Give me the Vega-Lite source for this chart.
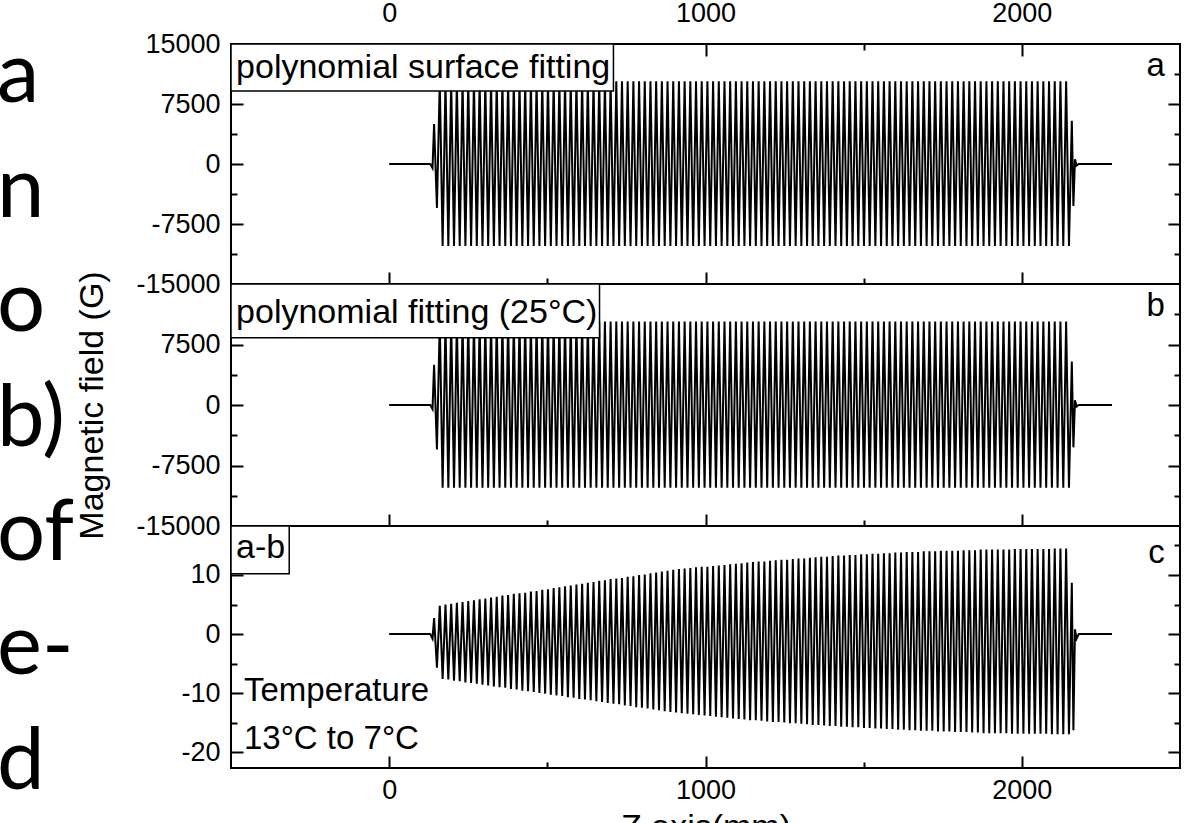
{
"$schema": "https://vega.github.io/schema/vega-lite/v6.json",
"padding": {"left": 0, "top": -8, "right": 0, "bottom": 0},
"background": "white",
"spacing": 0,
"config": {
 "view": {"stroke": "black", "strokeWidth": 2},
 "font": "Arial",
 "axis": {"domain": false, "grid": false, "labelFont": "Arial", "labelFontSize": 27, "labelColor": "black", "tickColor": "black", "tickWidth": 2, "titleFont": "Arial", "titleFontSize": 34, "titleFontWeight": "normal", "titleColor": "black", "labelFlush": false, "labelOverlap": false}
},
"datasets": {
 "words": [{"line":1,"word":"a"},{"line":2,"word":"n"},{"line":3,"word":"o"},{"line":4,"word":"b)"},{"line":5,"word":"of"},{"line":6,"word":"e-"},{"line":7,"word":"d"}],
 "wave": [
{"z":0,"a":0,"b":0,"c":0},
{"z":130,"a":0,"b":0,"c":0},
{"z":137,"a":-500,"b":-500,"c":-0.8},
{"z":142,"a":5000,"b":5000,"c":2.7},
{"z":151,"a":-5500,"b":-5500,"c":-5.7},
{"z":160,"a":10350,"b":10350,"c":4.8},
{"z":169,"a":-10250,"b":-10250,"c":-7.6},
{"z":178,"a":10350,"b":10350,"c":5.0},
{"z":187,"a":-10250,"b":-10250,"c":-7.7},
{"z":196,"a":10350,"b":10350,"c":5.1},
{"z":205,"a":-10250,"b":-10250,"c":-7.9},
{"z":214,"a":10350,"b":10350,"c":5.3},
{"z":223,"a":-10250,"b":-10250,"c":-8.0},
{"z":232,"a":10350,"b":10350,"c":5.4},
{"z":241,"a":-10250,"b":-10250,"c":-8.2},
{"z":250,"a":10350,"b":10350,"c":5.6},
{"z":259,"a":-10250,"b":-10250,"c":-8.3},
{"z":268,"a":10350,"b":10350,"c":5.7},
{"z":277,"a":-10250,"b":-10250,"c":-8.4},
{"z":286,"a":10350,"b":10350,"c":5.9},
{"z":295,"a":-10250,"b":-10250,"c":-8.6},
{"z":304,"a":10350,"b":10350,"c":6.0},
{"z":313,"a":-10250,"b":-10250,"c":-8.7},
{"z":322,"a":10350,"b":10350,"c":6.2},
{"z":331,"a":-10250,"b":-10250,"c":-8.9},
{"z":340,"a":10350,"b":10350,"c":6.3},
{"z":349,"a":-10250,"b":-10250,"c":-9.0},
{"z":358,"a":10350,"b":10350,"c":6.5},
{"z":367,"a":-10250,"b":-10250,"c":-9.1},
{"z":376,"a":10350,"b":10350,"c":6.6},
{"z":385,"a":-10250,"b":-10250,"c":-9.3},
{"z":394,"a":10350,"b":10350,"c":6.8},
{"z":403,"a":-10250,"b":-10250,"c":-9.4},
{"z":412,"a":10350,"b":10350,"c":6.9},
{"z":421,"a":-10250,"b":-10250,"c":-9.6},
{"z":430,"a":10350,"b":10350,"c":7.0},
{"z":439,"a":-10250,"b":-10250,"c":-9.7},
{"z":448,"a":10350,"b":10350,"c":7.2},
{"z":457,"a":-10250,"b":-10250,"c":-9.8},
{"z":466,"a":10350,"b":10350,"c":7.3},
{"z":475,"a":-10250,"b":-10250,"c":-10.0},
{"z":484,"a":10350,"b":10350,"c":7.5},
{"z":493,"a":-10250,"b":-10250,"c":-10.1},
{"z":502,"a":10350,"b":10350,"c":7.6},
{"z":511,"a":-10250,"b":-10250,"c":-10.3},
{"z":520,"a":10350,"b":10350,"c":7.8},
{"z":529,"a":-10250,"b":-10250,"c":-10.4},
{"z":538,"a":10350,"b":10350,"c":7.9},
{"z":547,"a":-10250,"b":-10250,"c":-10.5},
{"z":556,"a":10350,"b":10350,"c":8.1},
{"z":565,"a":-10250,"b":-10250,"c":-10.7},
{"z":574,"a":10350,"b":10350,"c":8.2},
{"z":583,"a":-10250,"b":-10250,"c":-10.8},
{"z":592,"a":10350,"b":10350,"c":8.4},
{"z":601,"a":-10250,"b":-10250,"c":-11.0},
{"z":610,"a":10350,"b":10350,"c":8.5},
{"z":619,"a":-10250,"b":-10250,"c":-11.1},
{"z":628,"a":10350,"b":10350,"c":8.7},
{"z":637,"a":-10250,"b":-10250,"c":-11.2},
{"z":646,"a":10350,"b":10350,"c":8.8},
{"z":655,"a":-10250,"b":-10250,"c":-11.4},
{"z":664,"a":10350,"b":10350,"c":9.0},
{"z":673,"a":-10250,"b":-10250,"c":-11.5},
{"z":682,"a":10350,"b":10350,"c":9.1},
{"z":691,"a":-10250,"b":-10250,"c":-11.7},
{"z":700,"a":10350,"b":10350,"c":9.3},
{"z":709,"a":-10250,"b":-10250,"c":-11.8},
{"z":718,"a":10350,"b":10350,"c":9.4},
{"z":727,"a":-10250,"b":-10250,"c":-11.9},
{"z":736,"a":10350,"b":10350,"c":9.5},
{"z":745,"a":-10250,"b":-10250,"c":-12.1},
{"z":754,"a":10350,"b":10350,"c":9.7},
{"z":763,"a":-10250,"b":-10250,"c":-12.2},
{"z":772,"a":10350,"b":10350,"c":9.8},
{"z":781,"a":-10250,"b":-10250,"c":-12.4},
{"z":790,"a":10350,"b":10350,"c":10.0},
{"z":799,"a":-10250,"b":-10250,"c":-12.5},
{"z":808,"a":10350,"b":10350,"c":10.1},
{"z":817,"a":-10250,"b":-10250,"c":-12.6},
{"z":826,"a":10350,"b":10350,"c":10.3},
{"z":835,"a":-10250,"b":-10250,"c":-12.8},
{"z":844,"a":10350,"b":10350,"c":10.4},
{"z":853,"a":-10250,"b":-10250,"c":-12.9},
{"z":862,"a":10350,"b":10350,"c":10.6},
{"z":871,"a":-10250,"b":-10250,"c":-13.1},
{"z":880,"a":10350,"b":10350,"c":10.7},
{"z":889,"a":-10250,"b":-10250,"c":-13.2},
{"z":898,"a":10350,"b":10350,"c":10.9},
{"z":907,"a":-10250,"b":-10250,"c":-13.3},
{"z":916,"a":10350,"b":10350,"c":11.0},
{"z":925,"a":-10250,"b":-10250,"c":-13.4},
{"z":934,"a":10350,"b":10350,"c":11.1},
{"z":943,"a":-10250,"b":-10250,"c":-13.5},
{"z":952,"a":10350,"b":10350,"c":11.2},
{"z":961,"a":-10250,"b":-10250,"c":-13.6},
{"z":970,"a":10350,"b":10350,"c":11.3},
{"z":979,"a":-10250,"b":-10250,"c":-13.7},
{"z":988,"a":10350,"b":10350,"c":11.4},
{"z":997,"a":-10250,"b":-10250,"c":-13.8},
{"z":1006,"a":10350,"b":10350,"c":11.4},
{"z":1015,"a":-10250,"b":-10250,"c":-13.9},
{"z":1024,"a":10350,"b":10350,"c":11.5},
{"z":1033,"a":-10250,"b":-10250,"c":-14.0},
{"z":1042,"a":10350,"b":10350,"c":11.6},
{"z":1051,"a":-10250,"b":-10250,"c":-14.1},
{"z":1060,"a":10350,"b":10350,"c":11.7},
{"z":1069,"a":-10250,"b":-10250,"c":-14.2},
{"z":1078,"a":10350,"b":10350,"c":11.8},
{"z":1087,"a":-10250,"b":-10250,"c":-14.3},
{"z":1096,"a":10350,"b":10350,"c":11.9},
{"z":1105,"a":-10250,"b":-10250,"c":-14.4},
{"z":1114,"a":10350,"b":10350,"c":12.0},
{"z":1123,"a":-10250,"b":-10250,"c":-14.5},
{"z":1132,"a":10350,"b":10350,"c":12.1},
{"z":1141,"a":-10250,"b":-10250,"c":-14.6},
{"z":1150,"a":10350,"b":10350,"c":12.2},
{"z":1159,"a":-10250,"b":-10250,"c":-14.6},
{"z":1168,"a":10350,"b":10350,"c":12.3},
{"z":1177,"a":-10250,"b":-10250,"c":-14.7},
{"z":1186,"a":10350,"b":10350,"c":12.3},
{"z":1195,"a":-10250,"b":-10250,"c":-14.8},
{"z":1204,"a":10350,"b":10350,"c":12.4},
{"z":1213,"a":-10250,"b":-10250,"c":-14.9},
{"z":1222,"a":10350,"b":10350,"c":12.5},
{"z":1231,"a":-10250,"b":-10250,"c":-14.9},
{"z":1240,"a":10350,"b":10350,"c":12.6},
{"z":1249,"a":-10250,"b":-10250,"c":-15.0},
{"z":1258,"a":10350,"b":10350,"c":12.6},
{"z":1267,"a":-10250,"b":-10250,"c":-15.1},
{"z":1276,"a":10350,"b":10350,"c":12.7},
{"z":1285,"a":-10250,"b":-10250,"c":-15.1},
{"z":1294,"a":10350,"b":10350,"c":12.8},
{"z":1303,"a":-10250,"b":-10250,"c":-15.2},
{"z":1312,"a":10350,"b":10350,"c":12.8},
{"z":1321,"a":-10250,"b":-10250,"c":-15.3},
{"z":1330,"a":10350,"b":10350,"c":12.9},
{"z":1339,"a":-10250,"b":-10250,"c":-15.4},
{"z":1348,"a":10350,"b":10350,"c":13.0},
{"z":1357,"a":-10250,"b":-10250,"c":-15.4},
{"z":1366,"a":10350,"b":10350,"c":13.1},
{"z":1375,"a":-10250,"b":-10250,"c":-15.5},
{"z":1384,"a":10350,"b":10350,"c":13.1},
{"z":1393,"a":-10250,"b":-10250,"c":-15.6},
{"z":1402,"a":10350,"b":10350,"c":13.2},
{"z":1411,"a":-10250,"b":-10250,"c":-15.6},
{"z":1420,"a":10350,"b":10350,"c":13.3},
{"z":1429,"a":-10250,"b":-10250,"c":-15.7},
{"z":1438,"a":10350,"b":10350,"c":13.3},
{"z":1447,"a":-10250,"b":-10250,"c":-15.7},
{"z":1456,"a":10350,"b":10350,"c":13.4},
{"z":1465,"a":-10250,"b":-10250,"c":-15.8},
{"z":1474,"a":10350,"b":10350,"c":13.4},
{"z":1483,"a":-10250,"b":-10250,"c":-15.8},
{"z":1492,"a":10350,"b":10350,"c":13.5},
{"z":1501,"a":-10250,"b":-10250,"c":-15.9},
{"z":1510,"a":10350,"b":10350,"c":13.5},
{"z":1519,"a":-10250,"b":-10250,"c":-15.9},
{"z":1528,"a":10350,"b":10350,"c":13.6},
{"z":1537,"a":-10250,"b":-10250,"c":-16.0},
{"z":1546,"a":10350,"b":10350,"c":13.6},
{"z":1555,"a":-10250,"b":-10250,"c":-16.0},
{"z":1564,"a":10350,"b":10350,"c":13.7},
{"z":1573,"a":-10250,"b":-10250,"c":-16.1},
{"z":1582,"a":10350,"b":10350,"c":13.7},
{"z":1591,"a":-10250,"b":-10250,"c":-16.1},
{"z":1600,"a":10350,"b":10350,"c":13.8},
{"z":1609,"a":-10250,"b":-10250,"c":-16.2},
{"z":1618,"a":10350,"b":10350,"c":13.8},
{"z":1627,"a":-10250,"b":-10250,"c":-16.2},
{"z":1636,"a":10350,"b":10350,"c":13.9},
{"z":1645,"a":-10250,"b":-10250,"c":-16.3},
{"z":1654,"a":10350,"b":10350,"c":13.9},
{"z":1663,"a":-10250,"b":-10250,"c":-16.3},
{"z":1672,"a":10350,"b":10350,"c":13.9},
{"z":1681,"a":-10250,"b":-10250,"c":-16.4},
{"z":1690,"a":10350,"b":10350,"c":14.0},
{"z":1699,"a":-10250,"b":-10250,"c":-16.4},
{"z":1708,"a":10350,"b":10350,"c":14.0},
{"z":1717,"a":-10250,"b":-10250,"c":-16.4},
{"z":1726,"a":10350,"b":10350,"c":14.0},
{"z":1735,"a":-10250,"b":-10250,"c":-16.5},
{"z":1744,"a":10350,"b":10350,"c":14.1},
{"z":1753,"a":-10250,"b":-10250,"c":-16.5},
{"z":1762,"a":10350,"b":10350,"c":14.1},
{"z":1771,"a":-10250,"b":-10250,"c":-16.5},
{"z":1780,"a":10350,"b":10350,"c":14.1},
{"z":1789,"a":-10250,"b":-10250,"c":-16.6},
{"z":1798,"a":10350,"b":10350,"c":14.1},
{"z":1807,"a":-10250,"b":-10250,"c":-16.6},
{"z":1816,"a":10350,"b":10350,"c":14.2},
{"z":1825,"a":-10250,"b":-10250,"c":-16.6},
{"z":1834,"a":10350,"b":10350,"c":14.2},
{"z":1843,"a":-10250,"b":-10250,"c":-16.7},
{"z":1852,"a":10350,"b":10350,"c":14.2},
{"z":1861,"a":-10250,"b":-10250,"c":-16.7},
{"z":1870,"a":10350,"b":10350,"c":14.3},
{"z":1879,"a":-10250,"b":-10250,"c":-16.8},
{"z":1888,"a":10350,"b":10350,"c":14.3},
{"z":1897,"a":-10250,"b":-10250,"c":-16.8},
{"z":1906,"a":10350,"b":10350,"c":14.3},
{"z":1915,"a":-10250,"b":-10250,"c":-16.8},
{"z":1924,"a":10350,"b":10350,"c":14.3},
{"z":1933,"a":-10250,"b":-10250,"c":-16.8},
{"z":1942,"a":10350,"b":10350,"c":14.3},
{"z":1951,"a":-10250,"b":-10250,"c":-16.8},
{"z":1960,"a":10350,"b":10350,"c":14.3},
{"z":1969,"a":-10250,"b":-10250,"c":-16.9},
{"z":1978,"a":10350,"b":10350,"c":14.4},
{"z":1987,"a":-10250,"b":-10250,"c":-16.9},
{"z":1996,"a":10350,"b":10350,"c":14.4},
{"z":2005,"a":-10250,"b":-10250,"c":-16.9},
{"z":2014,"a":10350,"b":10350,"c":14.4},
{"z":2023,"a":-10250,"b":-10250,"c":-16.9},
{"z":2032,"a":10350,"b":10350,"c":14.4},
{"z":2041,"a":-10250,"b":-10250,"c":-16.9},
{"z":2050,"a":10350,"b":10350,"c":14.4},
{"z":2059,"a":-10250,"b":-10250,"c":-16.9},
{"z":2068,"a":10350,"b":10350,"c":14.4},
{"z":2077,"a":-10250,"b":-10250,"c":-16.9},
{"z":2086,"a":10350,"b":10350,"c":14.4},
{"z":2095,"a":-10250,"b":-10250,"c":-17.0},
{"z":2104,"a":10350,"b":10350,"c":14.5},
{"z":2113,"a":-10250,"b":-10250,"c":-17.0},
{"z":2122,"a":10350,"b":10350,"c":14.5},
{"z":2131,"a":-10250,"b":-10250,"c":-17.0},
{"z":2140,"a":10350,"b":10350,"c":14.5},
{"z":2149,"a":-10250,"b":-10250,"c":-17.0},
{"z":2158,"a":5400,"b":5400,"c":8.7},
{"z":2163,"a":-5250,"b":-5250,"c":-16.3},
{"z":2168,"a":600,"b":600,"c":0.8},
{"z":2173,"a":-200,"b":-200,"c":-0.8},
{"z":2180,"a":0,"b":0,"c":0},
{"z":2285,"a":0,"b":0,"c":0}
 ]
},
"hconcat": [
 {
  "width": 74, "height": 823,
  "view": {"stroke": null},
  "data": {"name": "words"},
  "mark": {"type": "text", "align": "left", "baseline": "alphabetic", "font": "Lato", "fontSize": 85, "dx": -3, "dy": -10, "clip": true, "color": "black"},
  "encoding": {
   "y": {"field": "line", "type": "ordinal", "scale": {"type": "point", "padding": 0.594}, "axis": null},
   "x": {"datum": 0, "type": "quantitative", "scale": {"domain": [0, 74], "nice": false, "zero": false}, "axis": null},
   "text": {"field": "word"}
  }
 },
 {
  "spacing": 0,
  "bounds": "flush",
  "vconcat": [
   {
    "width": 949, "height": 240,
    "resolve": {"axis": {"x": "independent", "y": "independent"}},
    "layer": [
     {
      "data": {"name": "wave"},
      "mark": {"type": "line", "color": "black", "strokeWidth": 2},
      "encoding": {
       "x": {"field": "z", "type": "quantitative", "scale": {"domain": [-500, 2500], "nice": false, "zero": false},
             "axis": {"orient": "top", "values": [0, 500, 1000, 1500, 2000], "labelExpr": "datum.value % 1000 === 0 ? '' + datum.value : ''", "tickSize": {"condition": {"test": "datum.value % 1000 === 0", "value": -12}, "value": -6}, "labelPadding": 29, "title": null}},
       "y": {"field": "a", "type": "quantitative", "scale": {"domain": [-15000, 15000], "nice": false, "zero": false},
             "axis": {"orient": "left", "values": [-15000, -11250, -7500, -3750, 0, 3750, 7500, 11250, 15000], "labelExpr": "datum.value % 7500 === 0 ? '' + datum.value : ''", "tickSize": {"condition": {"test": "datum.value % 7500 === 0", "value": -12}, "value": -6}, "labelPadding": 23, "title": null}}
      }
     },
     {
      "data": {"values": [{}]},
      "mark": {"type": "rect", "fill": "white", "stroke": "black", "strokeWidth": 1.5},
      "encoding": {
       "x": {"datum": -500, "type": "quantitative", "scale": {"domain": [-500, 2500], "nice": false, "zero": false},
             "axis": {"orient": "bottom", "values": [0, 500, 1000, 1500, 2000], "labels": false, "tickSize": {"condition": {"test": "datum.value % 1000 === 0", "value": -12}, "value": -6}, "title": null}},
       "x2": {"datum": 709},
       "y": {"datum": 15000, "type": "quantitative", "scale": {"domain": [-15000, 15000], "nice": false, "zero": false},
             "axis": {"orient": "right", "values": [-11250, -7500, -3750, 0, 3750, 7500, 11250], "labels": false, "tickSize": {"condition": {"test": "datum.value % 7500 === 0", "value": -12}, "value": -6}, "title": null}},
       "y2": {"datum": 9125}
      }
     },
     {
      "data": {"values": [{"label": "polynomial surface fitting"}]},
      "mark": {"type": "text", "align": "left", "baseline": "alphabetic", "font": "Arial", "fontSize": 34, "color": "black"},
      "encoding": {
       "x": {"datum": -484, "type": "quantitative", "scale": {"domain": [-500, 2500], "nice": false, "zero": false}, "axis": null},
       "y": {"datum": 10750, "type": "quantitative", "scale": {"domain": [-15000, 15000], "nice": false, "zero": false}, "axis": null},
       "text": {"field": "label"}
      }
     },
     {
      "data": {"values": [{"label": "a"}]},
      "mark": {"type": "text", "align": "right", "baseline": "alphabetic", "font": "Arial", "fontSize": 33, "color": "black"},
      "encoding": {
       "x": {"datum": 2452, "type": "quantitative", "scale": {"domain": [-500, 2500], "nice": false, "zero": false}, "axis": null},
       "y": {"datum": 11000, "type": "quantitative", "scale": {"domain": [-15000, 15000], "nice": false, "zero": false}, "axis": null},
       "text": {"field": "label"}
      }
     }
    ]
   },
   {
    "width": 949, "height": 242,
    "resolve": {"axis": {"x": "independent", "y": "independent"}},
    "layer": [
     {
      "data": {"name": "wave"},
      "mark": {"type": "line", "color": "black", "strokeWidth": 2},
      "encoding": {
       "x": {"field": "z", "type": "quantitative", "scale": {"domain": [-500, 2500], "nice": false, "zero": false},
             "axis": {"orient": "bottom", "values": [0, 500, 1000, 1500, 2000], "labels": false, "tickSize": {"condition": {"test": "datum.value % 1000 === 0", "value": -12}, "value": -6}, "title": null}},
       "y": {"field": "b", "type": "quantitative", "scale": {"domain": [-15000, 15000], "nice": false, "zero": false},
             "axis": {"orient": "left", "values": [-15000, -11250, -7500, -3750, 0, 3750, 7500, 11250], "labelExpr": "datum.value % 7500 === 0 ? '' + datum.value : ''", "tickSize": {"condition": {"test": "datum.value % 7500 === 0", "value": -12}, "value": -6}, "labelPadding": 23, "title": "Magnetic field (G)", "titlePadding": 26}}
      }
     },
     {
      "data": {"values": [{}]},
      "mark": {"type": "rect", "fill": "white", "stroke": "black", "strokeWidth": 1.5},
      "encoding": {
       "x": {"datum": -500, "type": "quantitative", "scale": {"domain": [-500, 2500], "nice": false, "zero": false}, "axis": null},
       "x2": {"datum": 665},
       "y": {"datum": 15000, "type": "quantitative", "scale": {"domain": [-15000, 15000], "nice": false, "zero": false},
             "axis": {"orient": "right", "values": [-11250, -7500, -3750, 0, 3750, 7500, 11250], "labels": false, "tickSize": {"condition": {"test": "datum.value % 7500 === 0", "value": -12}, "value": -6}, "title": null}},
       "y2": {"datum": 8350}
      }
     },
     {
      "data": {"values": [{"label": "polynomial fitting (25°C)"}]},
      "mark": {"type": "text", "align": "left", "baseline": "alphabetic", "font": "Arial", "fontSize": 34, "color": "black"},
      "encoding": {
       "x": {"datum": -484, "type": "quantitative", "scale": {"domain": [-500, 2500], "nice": false, "zero": false}, "axis": null},
       "y": {"datum": 10170, "type": "quantitative", "scale": {"domain": [-15000, 15000], "nice": false, "zero": false}, "axis": null},
       "text": {"field": "label"}
      }
     },
     {
      "data": {"values": [{"label": "b"}]},
      "mark": {"type": "text", "align": "right", "baseline": "alphabetic", "font": "Arial", "fontSize": 33, "color": "black"},
      "encoding": {
       "x": {"datum": 2452, "type": "quantitative", "scale": {"domain": [-500, 2500], "nice": false, "zero": false}, "axis": null},
       "y": {"datum": 11000, "type": "quantitative", "scale": {"domain": [-15000, 15000], "nice": false, "zero": false}, "axis": null},
       "text": {"field": "label"}
      }
     }
    ]
   },
   {
    "width": 949, "height": 242,
    "resolve": {"axis": {"x": "independent", "y": "independent"}},
    "layer": [
     {
      "data": {"name": "wave"},
      "mark": {"type": "line", "color": "black", "strokeWidth": 2},
      "encoding": {
       "x": {"field": "z", "type": "quantitative", "scale": {"domain": [-500, 2500], "nice": false, "zero": false},
             "axis": {"orient": "bottom", "values": [0, 500, 1000, 1500, 2000], "labelExpr": "datum.value % 1000 === 0 ? '' + datum.value : ''", "tickSize": {"condition": {"test": "datum.value % 1000 === 0", "value": -12}, "value": -6}, "labelPadding": 21, "title": "Z axis(mm)", "titlePadding": 1}},
       "y": {"field": "c", "type": "quantitative", "scale": {"domain": [-22.7, 18.3], "nice": false, "zero": false},
             "axis": {"orient": "left", "values": [-20, -15, -10, -5, 0, 5, 10, 15], "labelExpr": "datum.value % 10 === 0 ? '' + datum.value : ''", "tickSize": {"condition": {"test": "datum.value % 10 === 0", "value": -12}, "value": -6}, "labelPadding": 23, "title": null}}
      }
     },
     {
      "data": {"values": [{}]},
      "mark": {"type": "rect", "fill": "white", "stroke": "black", "strokeWidth": 1.5},
      "encoding": {
       "x": {"datum": -500, "type": "quantitative", "scale": {"domain": [-500, 2500], "nice": false, "zero": false}, "axis": null},
       "x2": {"datum": -316},
       "y": {"datum": 18.3, "type": "quantitative", "scale": {"domain": [-22.7, 18.3], "nice": false, "zero": false},
             "axis": {"orient": "right", "values": [-20, -15, -10, -5, 0, 5, 10, 15], "labels": false, "tickSize": {"condition": {"test": "datum.value % 10 === 0", "value": -12}, "value": -6}, "title": null}},
       "y2": {"datum": 10.2}
      }
     },
     {
      "data": {"values": [{"label": "a-b"}]},
      "mark": {"type": "text", "align": "left", "baseline": "alphabetic", "font": "Arial", "fontSize": 34, "color": "black"},
      "encoding": {
       "x": {"datum": -484, "type": "quantitative", "scale": {"domain": [-500, 2500], "nice": false, "zero": false}, "axis": null},
       "y": {"datum": 12.8, "type": "quantitative", "scale": {"domain": [-22.7, 18.3], "nice": false, "zero": false}, "axis": null},
       "text": {"field": "label"}
      }
     },
     {
      "data": {"values": [{}]},
      "mark": {"type": "text", "align": "left", "baseline": "alphabetic", "font": "Arial", "fontSize": 33, "lineHeight": 48, "color": "black"},
      "encoding": {
       "x": {"datum": -459, "type": "quantitative", "scale": {"domain": [-500, 2500], "nice": false, "zero": false}, "axis": null},
       "y": {"datum": -11.3, "type": "quantitative", "scale": {"domain": [-22.7, 18.3], "nice": false, "zero": false}, "axis": null},
       "text": {"value": ["Temperature", "13°C to 7°C"]}
      }
     },
     {
      "data": {"values": [{"label": "c"}]},
      "mark": {"type": "text", "align": "right", "baseline": "alphabetic", "font": "Arial", "fontSize": 33, "color": "black"},
      "encoding": {
       "x": {"datum": 2452, "type": "quantitative", "scale": {"domain": [-500, 2500], "nice": false, "zero": false}, "axis": null},
       "y": {"datum": 12.1, "type": "quantitative", "scale": {"domain": [-22.7, 18.3], "nice": false, "zero": false}, "axis": null},
       "text": {"field": "label"}
      }
     }
    ]
   }
  ]
 }
]
}
